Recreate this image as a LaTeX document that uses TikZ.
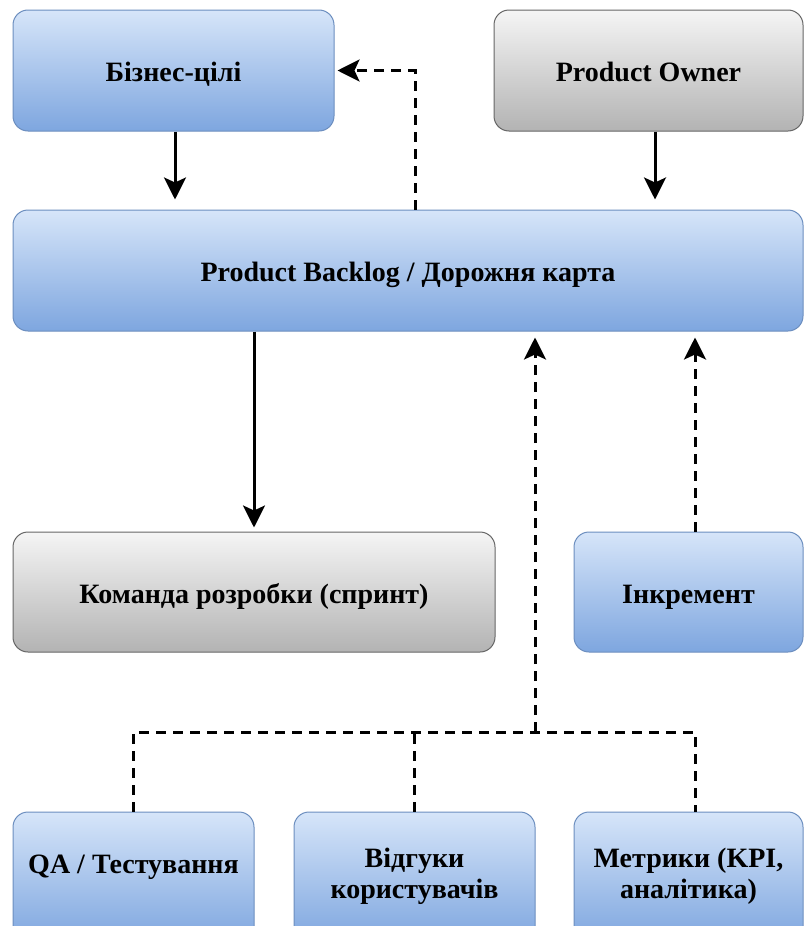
\documentclass[tikz,border=0pt]{standalone}
\usepackage{fontspec}
\setmainfont{Liberation Serif}
\usetikzlibrary{arrows.meta}
\definecolor{bluetop}{HTML}{D6E5F9}
\definecolor{bluebot}{HTML}{7EA6DF}
\definecolor{blueline}{HTML}{6C8EBF}
\definecolor{graytop}{HTML}{F5F5F5}
\definecolor{graybot}{HTML}{B3B3B3}
\definecolor{grayline}{HTML}{666666}
\begin{document}
\begin{tikzpicture}[x=1pt,y=-1pt,
  box/.style={rounded corners=15pt, line width=1pt, inner sep=0pt, align=center,
    text height=26pt, text depth=4pt,
    font=\fontsize{28}{31}\selectfont\bfseries},
  bluebox/.style={box, draw=blueline, top color=bluetop, bottom color=bluebot},
  graybox/.style={box, draw=grayline, top color=graytop, bottom color=graybot},
  lbl/.style={align=center, inner sep=0pt, font=\fontsize{28}{31}\selectfont\bfseries},
  arr/.style={line width=3pt, -{Stealth[length=22pt,width=22pt,inset=5pt]}},
  darr/.style={arr, dash pattern=on 10pt off 7pt},
  dline/.style={line width=3pt, dash pattern=on 10pt off 7pt}]
\useasboundingbox (0,0) rectangle (804,926);
\clip (0,0) rectangle (804,926);
\node[bluebox, minimum width=321pt, minimum height=121pt] (biz) at (173.5,70.5) {Бізнес-цілі};
\node[graybox, minimum width=309pt, minimum height=121pt] (po) at (648.5,70.5) {Product Owner};
\node[bluebox, minimum width=790pt, minimum height=121pt] (bl) at (408,270.5) {Product Backlog / Дорожня карта};
\node[graybox, minimum width=482pt, minimum height=120pt] (team) at (254,592) {Команда розробки (спринт)};
\node[bluebox, minimum width=229pt, minimum height=120pt] (inc) at (688.5,592) {Інкремент};
\node[bluebox, minimum width=241pt, minimum height=130pt] (qa) at (133.5,877) {};
\node[bluebox, minimum width=241pt, minimum height=130pt] (fb) at (414.5,877) {};
\node[bluebox, minimum width=229pt, minimum height=130pt] (met) at (688.5,877) {};
\node[lbl] (qat) at (133.5,867) {QA / Тестування};
\node[lbl] (fbt) at (414.5,876) {Відгуки\\користувачів};
\node[lbl] (mett) at (688.5,876) {Метрики (KPI,\\аналітика)};
\coordinate (m) at (535,732);
% arrows
\draw[arr, shorten >=10pt] ([xshift=1.5pt]biz.south) -- ([xshift=1.5pt]biz.south |- bl.north);
\draw[arr, shorten >=10pt] ([xshift=6.5pt]po.south) -- ([xshift=6.5pt]po.south |- bl.north);
\draw[darr, shorten >=3pt] ([xshift=7pt]bl.north) |- (biz.east);
\draw[arr, shorten >=4pt] (bl.south -| team.north) -- (team.north);
\draw[darr, shorten >=6pt] ([xshift=6.5pt]inc.north) -- ([xshift=6.5pt]inc.north |- bl.south);
\draw[dline] (qa.north) |- (m) -| ([xshift=6.5pt]met.north);
\draw[dline] (fb.north) -- (fb.north |- m);
\draw[darr, shorten >=6pt] (m) -- (m |- bl.south);
\end{tikzpicture}
\end{document}
